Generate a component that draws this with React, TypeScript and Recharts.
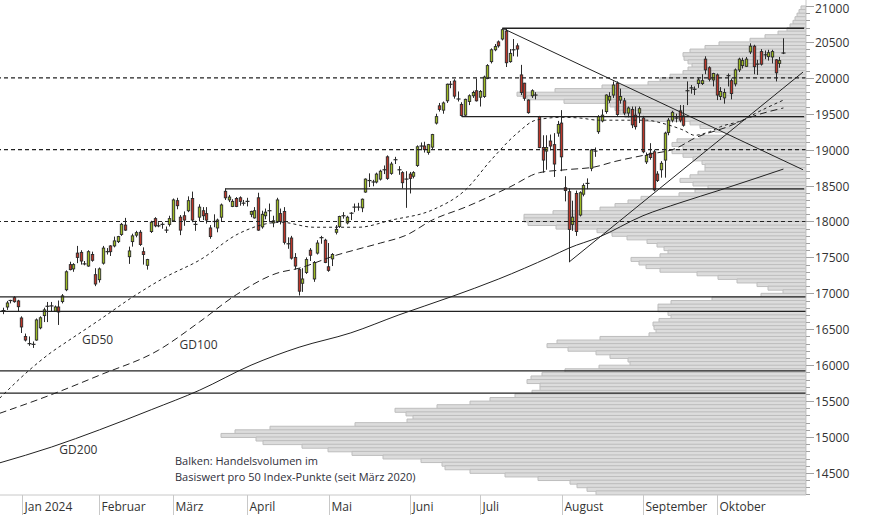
import React from 'react';
import {
  ComposedChart, BarChart, XAxis, YAxis, Bar, Line, ReferenceLine, ReferenceDot,
} from 'recharts';

// Handelstage (US), 22.12.2023 bis 25.10.2024
const DATES = [
  '2023-12-22', '2023-12-26', '2023-12-27', '2023-12-28', '2023-12-29',
  '2024-01-02', '2024-01-03', '2024-01-04', '2024-01-05', '2024-01-08', '2024-01-09', '2024-01-10', '2024-01-11', '2024-01-12', '2024-01-16', '2024-01-17', '2024-01-18', '2024-01-19', '2024-01-22', '2024-01-23', '2024-01-24', '2024-01-25', '2024-01-26', '2024-01-29', '2024-01-30', '2024-01-31',
  '2024-02-01', '2024-02-02', '2024-02-05', '2024-02-06', '2024-02-07', '2024-02-08', '2024-02-09', '2024-02-12', '2024-02-13', '2024-02-14', '2024-02-15', '2024-02-16', '2024-02-20', '2024-02-21', '2024-02-22', '2024-02-23', '2024-02-26', '2024-02-27', '2024-02-28', '2024-02-29',
  '2024-03-01', '2024-03-04', '2024-03-05', '2024-03-06', '2024-03-07', '2024-03-08', '2024-03-11', '2024-03-12', '2024-03-13', '2024-03-14', '2024-03-15', '2024-03-18', '2024-03-19', '2024-03-20', '2024-03-21', '2024-03-22', '2024-03-25', '2024-03-26', '2024-03-27', '2024-03-28',
  '2024-04-01', '2024-04-02', '2024-04-03', '2024-04-04', '2024-04-05', '2024-04-08', '2024-04-09', '2024-04-10', '2024-04-11', '2024-04-12', '2024-04-15', '2024-04-16', '2024-04-17', '2024-04-18', '2024-04-19', '2024-04-22', '2024-04-23', '2024-04-24', '2024-04-25', '2024-04-26', '2024-04-29', '2024-04-30',
  '2024-05-01', '2024-05-02', '2024-05-03', '2024-05-06', '2024-05-07', '2024-05-08', '2024-05-09', '2024-05-10', '2024-05-13', '2024-05-14', '2024-05-15', '2024-05-16', '2024-05-17', '2024-05-20', '2024-05-21', '2024-05-22', '2024-05-23', '2024-05-24', '2024-05-28', '2024-05-29', '2024-05-30', '2024-05-31',
  '2024-06-03', '2024-06-04', '2024-06-05', '2024-06-06', '2024-06-07', '2024-06-10', '2024-06-11', '2024-06-12', '2024-06-13', '2024-06-14', '2024-06-17', '2024-06-18', '2024-06-20', '2024-06-21', '2024-06-24', '2024-06-25', '2024-06-26', '2024-06-27', '2024-06-28',
  '2024-07-01', '2024-07-02', '2024-07-03', '2024-07-05', '2024-07-08', '2024-07-09', '2024-07-10', '2024-07-11', '2024-07-12', '2024-07-15', '2024-07-16', '2024-07-17', '2024-07-18', '2024-07-19', '2024-07-22', '2024-07-23', '2024-07-24', '2024-07-25', '2024-07-26', '2024-07-29', '2024-07-30', '2024-07-31',
  '2024-08-01', '2024-08-02', '2024-08-05', '2024-08-06', '2024-08-07', '2024-08-08', '2024-08-09', '2024-08-12', '2024-08-13', '2024-08-14', '2024-08-15', '2024-08-16', '2024-08-19', '2024-08-20', '2024-08-21', '2024-08-22', '2024-08-23', '2024-08-26', '2024-08-27', '2024-08-28', '2024-08-29', '2024-08-30',
  '2024-09-03', '2024-09-04', '2024-09-05', '2024-09-06', '2024-09-09', '2024-09-10', '2024-09-11', '2024-09-12', '2024-09-13', '2024-09-16', '2024-09-17', '2024-09-18', '2024-09-19', '2024-09-20', '2024-09-23', '2024-09-24', '2024-09-25', '2024-09-26', '2024-09-27', '2024-09-30',
  '2024-10-01', '2024-10-02', '2024-10-03', '2024-10-04', '2024-10-07', '2024-10-08', '2024-10-09', '2024-10-10', '2024-10-11', '2024-10-14', '2024-10-15', '2024-10-16', '2024-10-17', '2024-10-18', '2024-10-21', '2024-10-22', '2024-10-23', '2024-10-24', '2024-10-25',
];

const OPEN = [
  16770, 16810, 16880, 16940, 16894,
  16657, 16400, 16320, 16300, 16350, 16520, 16690, 16830, 16830, 16750, 16810, 16885, 17050, 17400, 17340, 17560, 17570, 17420, 17380, 17540, 17260,
  17190, 17420, 17590, 17660, 17660, 17720, 17820, 17950, 17510, 17720, 17810, 17850, 17580, 17390, 17860, 18040, 17950, 17950, 17900, 17960,
  18010, 18290, 18060, 18080, 18150, 18320, 17970, 18060, 18150, 18110, 17910, 18010, 17910, 18060, 18420, 18300, 18210, 18320, 18330, 18260,
  18290, 18100, 18050, 18330, 17925, 18080, 18150, 17980, 18000, 18110, 18140, 17700, 17770, 17500, 17330, 17140, 17290, 17600, 17200, 17560, 17770, 17740,
  17370, 17480, 17850, 17930, 18080, 17980, 18110, 18200, 18210, 18190, 18410, 18570, 18540, 18550, 18590, 18720, 18900, 18670, 18855, 18720, 18680, 18580,
  18660, 18630, 18780, 19040, 19050, 18960, 19035, 19370, 19610, 19550, 19680, 19900, 19955, 19700, 19630, 19480, 19670, 19750, 19820,
  19730, 19740, 19990, 20225, 20390, 20500, 20540, 20650, 20225, 20380, 20445, 20040, 19925, 19690, 19750, 19760, 19460, 19030, 18980, 19120, 19070, 19230,
  19370, 18470, 18415, 17960, 18390, 18090, 18380, 18530, 18740, 18975, 19250, 19400, 19530, 19690, 19760, 19925, 19690, 19680, 19510, 19560, 19480, 19510,
  19440, 18830, 18950, 18970, 18660, 18720, 18855, 19240, 19410, 19440, 19540, 19470, 19820, 19850, 19830, 19920, 19920, 20260, 20140, 19970,
  20040, 19740, 19720, 20020, 19960, 19915, 20110, 20170, 20160, 20360, 20440, 20190, 20365, 20320, 20295, 20290, 20250, 20200, 20340,
];

const HIGH = [
  16800, 16894, 16910, 16960, 16910,
  16680, 16440, 16400, 16330, 16650, 16680, 16800, 16880, 16880, 16830, 16900, 16990, 17320, 17440, 17420, 17660, 17600, 17450, 17600, 17580, 17350,
  17360, 17660, 17630, 17670, 17790, 17800, 17980, 18050, 17650, 17830, 17870, 17880, 17640, 17480, 18010, 18060, 17990, 17990, 17930, 18080,
  18320, 18330, 18090, 18140, 18350, 18416, 18010, 18240, 18200, 18200, 17950, 18100, 18040, 18250, 18460, 18370, 18310, 18340, 18350, 18300,
  18330, 18150, 18200, 18400, 18150, 18180, 18250, 18080, 18330, 18180, 18200, 17780, 17800, 17560, 17350, 17350, 17500, 17630, 17450, 17740, 17800, 17760,
  17700, 17560, 17950, 18080, 18130, 18080, 18130, 18250, 18260, 18320, 18600, 18670, 18580, 18680, 18720, 18780, 18920, 18830, 18900, 18770, 18700, 18700,
  18690, 18700, 19060, 19100, 19110, 19080, 19220, 19500, 19650, 19670, 19920, 19955, 19980, 19810, 19660, 19710, 19770, 19820, 19990,
  19830, 20030, 20190, 20410, 20470, 20520, 20690, 20680, 20400, 20540, 20480, 20180, 19930, 19700, 19840, 19800, 19470, 19200, 19200, 19210, 19230, 19400,
  19550, 18630, 18460, 18290, 18430, 18420, 18530, 18600, 19010, 19030, 19480, 19560, 19770, 19800, 19950, 19950, 19850, 19720, 19600, 19600, 19600, 19600,
  19470, 18960, 19090, 19000, 18700, 18840, 19250, 19440, 19540, 19500, 19620, 19620, 19950, 19900, 19880, 20000, 20050, 20300, 20160, 20070,
  20060, 19870, 19850, 20060, 19990, 20130, 20280, 20280, 20290, 20480, 20460, 20250, 20400, 20380, 20390, 20390, 20260, 20290, 20550,
];

const LOW = [
  16710, 16770, 16860, 16870, 16754,
  16448, 16330, 16270, 16240, 16340, 16500, 16600, 16600, 16750, 16740, 16560, 16860, 17030, 17320, 17300, 17420, 17400, 17390, 17370, 17440, 17100,
  17150, 17400, 17540, 17520, 17640, 17700, 17800, 17870, 17410, 17650, 17780, 17660, 17400, 17330, 17840, 17920, 17920, 17900, 17840, 17930,
  18000, 18170, 17810, 17940, 18130, 17990, 17870, 18000, 18020, 17970, 17760, 17920, 17850, 18000, 18300, 18270, 18200, 18200, 18220, 18220,
  18210, 18060, 18040, 17870, 17900, 18030, 17990, 17920, 17980, 17960, 17680, 17620, 17470, 17330, 16970, 17020, 17270, 17450, 17160, 17540, 17690, 17420,
  17300, 17380, 17820, 17910, 18040, 17960, 18020, 18130, 18150, 18130, 18400, 18480, 18490, 18530, 18570, 18660, 18580, 18650, 18800, 18650, 18460, 18190,
  18390, 18600, 18760, 18990, 18960, 18930, 19000, 19350, 19530, 19500, 19650, 19855, 19710, 19670, 19460, 19470, 19620, 19720, 19670,
  19600, 19720, 19980, 20200, 20370, 20420, 20520, 20150, 20210, 20300, 20295, 19760, 19680, 19500, 19720, 19700, 19020, 18680, 18720, 18990, 18620, 19180,
  18700, 18280, 17435, 17870, 17800, 18070, 18350, 18450, 18700, 18900, 19220, 19380, 19500, 19650, 19720, 19470, 19640, 19480, 19450, 19300, 19280, 19370,
  18950, 18800, 18860, 18420, 18550, 18610, 18610, 19200, 19380, 19380, 19380, 19320, 19620, 19780, 19760, 19860, 19900, 20050, 19950, 19880,
  19690, 19690, 19640, 19880, 19700, 19880, 20080, 20130, 20150, 20330, 20050, 20040, 20170, 20260, 20240, 20200, 19950, 20140, 20330,
];

const CLOSE = [
  16760, 16866, 16900, 16884, 16814,
  16532, 16350, 16300, 16290, 16630, 16660, 16770, 16820, 16825, 16810, 16740, 16965, 17300, 17330, 17400, 17500, 17450, 17410, 17580, 17460, 17130,
  17340, 17630, 17580, 17580, 17730, 17790, 17960, 17880, 17590, 17800, 17845, 17680, 17540, 17470, 17990, 17940, 17940, 17960, 17880, 18040,
  18300, 18220, 17880, 18020, 18290, 18020, 17960, 18200, 18080, 18020, 17790, 18000, 18020, 18230, 18330, 18340, 18280, 18210, 18280, 18255,
  18280, 18140, 18150, 17880, 18100, 18130, 18150, 18010, 18300, 18000, 17710, 17690, 17490, 17380, 17030, 17200, 17470, 17530, 17430, 17700, 17775, 17430,
  17320, 17540, 17890, 18070, 18080, 18060, 18115, 18200, 18200, 18310, 18590, 18570, 18550, 18660, 18700, 18720, 18600, 18800, 18860, 18720, 18540, 18590,
  18600, 18680, 19040, 19050, 19000, 19070, 19210, 19460, 19560, 19650, 19910, 19910, 19745, 19705, 19475, 19700, 19750, 19795, 19680,
  19810, 20010, 20170, 20390, 20435, 20445, 20670, 20210, 20340, 20390, 20400, 19795, 19715, 19515, 19820, 19760, 19030, 18855, 19030, 19050, 18800, 19350,
  18900, 18430, 17890, 18060, 17860, 18400, 18500, 18530, 18995, 18980, 19460, 19480, 19760, 19740, 19900, 19490, 19740, 19510, 19580, 19345, 19320, 19570,
  18970, 18920, 18890, 18440, 18570, 18810, 19230, 19410, 19520, 19440, 19410, 19340, 19820, 19860, 19840, 19970, 19960, 20110, 19980, 20060,
  19760, 19810, 19795, 20030, 19780, 20110, 20260, 20240, 20260, 20440, 20155, 20190, 20190, 20320, 20350, 20365, 20070, 20240, 20345,
];

const GD50_AT = [-6, 2, 8, 12, 21, 30, 39, 48, 59, 70, 79, 91, 100, 111, 120, 127, 134, 139, 146, 151, 156, 169, 173, 179, 182, 186, 189, 195, 199, 206];
const GD50_VAL = [15540, 15930, 16180, 16320, 16630, 16950, 17230, 17460, 17840, 17990, 17920, 17920, 18020, 18160, 18440, 18860, 19230, 19410, 19450, 19440, 19410, 19410, 19370, 19270, 19200, 19250, 19320, 19410, 19520, 19690];
const GD100_AT = [-6, 8, 21, 37, 48, 58, 69, 75, 85, 92, 97, 104, 111, 120, 132, 140, 147, 155, 160, 169, 177, 182, 191, 197, 206];
const GD100_VAL = [15330, 15590, 15860, 16210, 16600, 16980, 17280, 17350, 17530, 17630, 17700, 17810, 18020, 18200, 18480, 18680, 18720, 18760, 18830, 18930, 19020, 19160, 19320, 19450, 19580];
const GD200_AT = [-6, 8, 21, 35, 48, 62, 75, 89, 102, 116, 129, 143, 148, 156, 168, 178, 189, 206];
const GD200_VAL = [14640, 14860, 15100, 15380, 15650, 16000, 16250, 16450, 16700, 16950, 17200, 17510, 17630, 17780, 18080, 18260, 18440, 18730];

// Handelsvolumen je 50-Punkte-Band, von 20950 abwärts bis 14200 (relative Einheiten)
const VOL_TOP = 20950;
const VOL_STEP = 50;
const VOLUME = [
  5, 7, 9, 11, 13, 16, 19, 28, 41, 56,
  87, 101, 116, 123, 122, 118, 114, 118, 123, 136,
  146, 158, 204, 251, 289, 279, 242, 196, 191, 186,
  181, 163, 116, 106, 91, 78, 106, 129, 134, 123,
  134, 123, 113, 104, 101, 101, 108, 116, 126, 113,
  98, 111, 127, 165, 178, 191, 206, 253, 282, 282,
  278, 250, 209, 194, 179, 159, 149, 142, 138, 146,
  175, 167, 160, 146, 109, 88, 69, 49, 38, 23,
  45, 94, 135, 148, 148, 138, 135, 147, 153, 152,
  150, 157, 206, 249, 259, 238, 210, 196, 178, 176,
  207, 241, 264, 275, 279, 266, 266, 274, 291, 316,
  336, 369, 411, 400, 393, 399, 451, 536, 571, 585,
  550, 543, 504, 478, 454, 423, 385, 364, 361, 336,
  301, 268, 236, 229, 219, 210,
];

const MONTH_LABELS = ['Jan 2024', 'Februar', 'März', 'April', 'Mai', 'Juni', 'Juli', 'August', 'September', 'Oktober'];

const DASHED_LEVELS = [20000, 19000, 18000];
const FULL_LEVELS = [16950, 16750, 15920, 15610];
// waagerechte Linien ab einem Hoch/Tief (Handelstag, Niveau)
const PARTIAL_LEVELS = [
  { from: 130, v: 20690 },
  { from: 119, v: 19460 },
  { from: 55, v: 18455 },
];
const TREND_DOWN = [{ x: 130, y: 20690 }, { x: 211.3, y: 18720 }];
const TREND_UP = [{ x: 148, y: 17435 }, { x: 211.3, y: 20080 }];

const GD_LABELS = [
  { text: 'GD50', x: 20.5, y: 16350 },
  { text: 'GD100', x: 47.8, y: 16280 },
  { text: 'GD200', x: 15.3, y: 14820 },
];

const X_MIN = -5.9;
const X_MAX = 212.1;
const Y_MIN = 14193;
const Y_MAX = 21083;
const VOL_MAX = 806;

const W = 874;
const H = 515;
const AXIS_W = 68;
const AXIS_H = 20;

const GREEN = '#9cba22';
const RED = '#bd3629';
const FONT = '"Open Sans", "Noto Sans", sans-serif';

const FIRST = DATES.indexOf('2024-01-02');

const candles = DATES.map((d, k) => ({
  i: k - FIRST,
  d,
  o: OPEN[k],
  h: HIGH[k],
  l: LOW[k],
  c: CLOSE[k],
}));

const monthTicks = DATES.map((d, k) => (k > 0 && d.slice(0, 7) !== DATES[k - 1].slice(0, 7) ? k - FIRST : null))
  .filter((v): v is number => v !== null);

const toLine = (at: number[], val: number[]) => at.map((i, k) => ({ i, v: val[k] }));
const gd50 = toLine(GD50_AT, GD50_VAL);
const gd100 = toLine(GD100_AT, GD100_VAL);
const gd200 = toLine(GD200_AT, GD200_VAL);

// Balkenmitte je Band
const profile = VOLUME.map((v, k) => ({ mid: VOL_TOP - k * VOL_STEP + VOL_STEP / 2, v }));

const yTicks: number[] = [];
for (let t = 14200; t <= 21000; t += 100) yTicks.push(t);

const Candle = (props: any) => {
  const { x, y, width, height, payload } = props;
  if (!payload || x == null) return null;
  const { o, h, l, c } = payload;
  const top = Math.min(y, y + height);
  const span = Math.abs(height);
  const k = h === l ? 0 : span / (h - l);
  const cx = Math.round(x + width / 2) + 0.5;
  const yo = top + (h - o) * k;
  const yc = top + (h - c) * k;
  const bodyTop = Math.min(yo, yc);
  const bodyH = Math.abs(yc - yo);
  return (
    <g>
      <line x1={cx} x2={cx} y1={top} y2={top + span} stroke="#2b2b2b" strokeWidth={1} />
      {bodyH < 1.5 ? (
        <line x1={cx - 2} x2={cx + 2} y1={yc} y2={yc} stroke="#2b2b2b" strokeWidth={1.2} />
      ) : (
        <rect x={cx - 1.2} y={bodyTop} width={2.4} height={bodyH} fill={c >= o ? GREEN : RED} stroke="#2b2b2b" strokeWidth={0.9} />
      )}
    </g>
  );
};

const YTick = (props: any) => {
  const { x, y, payload } = props;
  const major = payload.value % 500 === 0;
  const py = Math.round(y) + 0.5;
  return (
    <g>
      <line x1={x} x2={x + (major ? 8 : 4)} y1={py} y2={py} stroke="#a0a0a0" />
      {major && (
        <text x={x + 9} y={Math.max(py, 8.5)} dy="0.36em" fontSize={12} fill="#333" fontFamily={FONT}>
          {payload.value}
        </text>
      )}
    </g>
  );
};

const XTick = (props: any) => {
  const { x, y, payload } = props;
  const px = Math.round(x) + 0.5;
  const label = MONTH_LABELS[monthTicks.indexOf(payload.value)];
  return (
    <g>
      <line x1={px} x2={px} y1={y} y2={y + 20} stroke="#c8c8c8" />
      <text x={px + 2} y={y + 16} fontSize={12} fill="#333" fontFamily={FONT}>
        {label}
      </text>
    </g>
  );
};

export default function App() {
  return (
    <div style={{ position: 'absolute', left: 0, top: 0, width: W, height: H, background: '#fff', fontFamily: FONT }}>
      {/* Volumenprofil: waagerechte Balken, am rechten Rand verankert */}
      <div style={{ position: 'absolute', left: 0, top: 0 }}>
        <BarChart
          layout="vertical"
          width={W}
          height={H}
          data={profile}
          margin={{ top: 0, right: AXIS_W, bottom: AXIS_H, left: 0 }}
          barCategoryGap={0}
          barGap={0}
        >
          <XAxis type="number" domain={[0, VOL_MAX]} reversed hide allowDataOverflow />
          <YAxis type="number" dataKey="mid" domain={[Y_MIN, Y_MAX]} reversed hide allowDataOverflow />
          <Bar dataKey="v" fill="#dcdcdc" stroke="#bdbdbd" strokeWidth={1} isAnimationActive={false} activeBar={false} />
        </BarChart>
      </div>

      <div style={{ position: 'absolute', left: 0, top: 0 }}>
        <ComposedChart width={W} height={H} data={candles} margin={{ top: 0, right: 0, bottom: 0, left: 0 }}>
          <XAxis
            xAxisId="t"
            dataKey="i"
            type="number"
            domain={[X_MIN, X_MAX]}
            allowDataOverflow
            ticks={monthTicks}
            interval={0}
            tick={<XTick />}
            tickLine={false}
            tickSize={0}
            tickMargin={0}
            height={AXIS_H}
            stroke="#c8c8c8"
          />
          <YAxis
            orientation="right"
            type="number"
            domain={[Y_MIN, Y_MAX]}
            allowDataOverflow
            ticks={yTicks}
            interval={0}
            tick={<YTick />}
            tickLine={false}
            tickSize={0}
            tickMargin={0}
            width={AXIS_W}
            stroke="#c8c8c8"
          />

          {DASHED_LEVELS.map((v) => (
            <ReferenceLine key={v} xAxisId="t" y={v} stroke="#222" strokeDasharray="4 3" strokeWidth={1.2} />
          ))}
          {FULL_LEVELS.map((v) => (
            <ReferenceLine key={v} xAxisId="t" y={v} stroke="#222" strokeWidth={1.3} />
          ))}
          {PARTIAL_LEVELS.map((s) => (
            <ReferenceLine
              key={s.v}
              xAxisId="t"
              segment={[{ x: s.from, y: s.v }, { x: X_MAX - 0.5, y: s.v }]}
              stroke="#222"
              strokeWidth={1.3}
            />
          ))}
          <ReferenceLine xAxisId="t" segment={TREND_DOWN} stroke="#222" strokeWidth={1} />
          <ReferenceLine xAxisId="t" segment={TREND_UP} stroke="#222" strokeWidth={1} />

          <Line xAxisId="t" data={gd200} dataKey="v" type="monotone" stroke="#222" strokeWidth={1} dot={false} activeDot={false} isAnimationActive={false} />
          <Line xAxisId="t" data={gd100} dataKey="v" type="monotone" stroke="#222" strokeWidth={1} strokeDasharray="7 4" dot={false} activeDot={false} isAnimationActive={false} />
          <Line xAxisId="t" data={gd50} dataKey="v" type="monotone" stroke="#222" strokeWidth={1} strokeDasharray="3 3" dot={false} activeDot={false} isAnimationActive={false} />

          <Bar
            xAxisId="t"
            dataKey={(d: any) => [d.l, d.h]}
            barSize={3}
            shape={<Candle />}
            activeBar={false}
            isAnimationActive={false}
          />

          {GD_LABELS.map((g) => (
            <ReferenceDot
              key={g.text}
              xAxisId="t"
              x={g.x}
              y={g.y}
              r={0}
              fill="none"
              stroke="none"
              label={{ value: g.text, position: 'center', fill: '#333', fontSize: 12, fontFamily: FONT }}
            />
          ))}
        </ComposedChart>
      </div>

      <div style={{ position: 'absolute', left: 175, top: 453, fontSize: 11, lineHeight: '16px', color: '#2f2f3a' }}>
        Balken: Handelsvolumen im
        <br />
        Basiswert pro 50 Index-Punkte (seit März 2020)
      </div>
    </div>
  );
}
